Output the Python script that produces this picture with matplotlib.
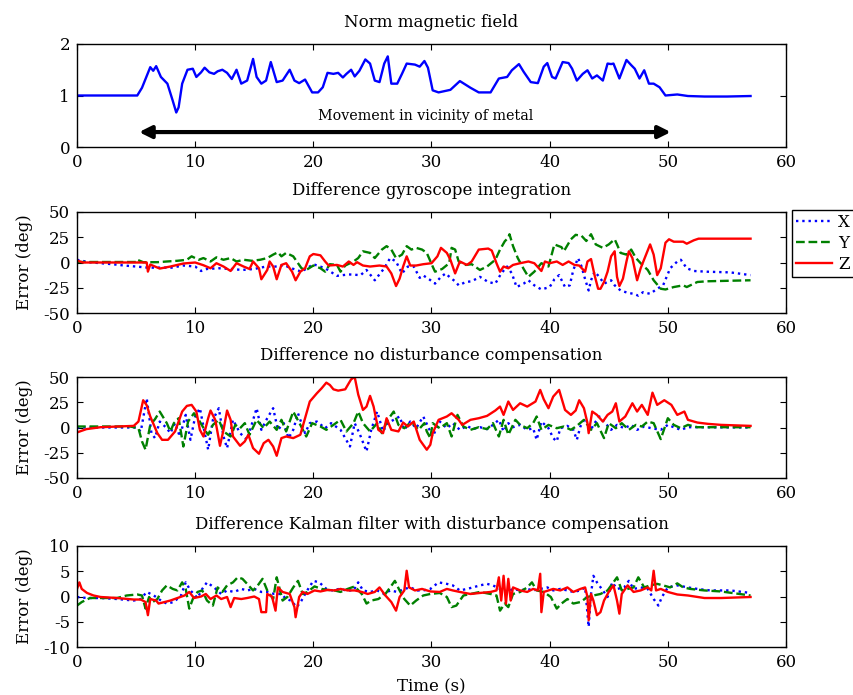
import matplotlib
matplotlib.use('Agg')
import matplotlib.pyplot as plt

# values: (time s, value)
norm_field = [(0, 1.0), (1, 1.0), (2, 1.0), (3, 1.0), (4, 1.0), (5.1, 1.0), (5.5, 1.15),
              (6.2, 1.55), (6.45, 1.48), (6.7, 1.57), (7.1, 1.36), (7.65, 1.23), (8.1, 0.9),
              (8.4, 0.67), (8.6, 0.77), (8.9, 1.23), (9.35, 1.5), (9.8, 1.52), (10.1, 1.36),
              (10.5, 1.45), (10.8, 1.54), (11.2, 1.45), (11.6, 1.42), (11.9, 1.47), (12.3, 1.5),
              (12.7, 1.44), (13.1, 1.32), (13.5, 1.5), (13.9, 1.23), (14.4, 1.29), (14.9, 1.71),
              (15.2, 1.36), (15.6, 1.23), (16.0, 1.29), (16.4, 1.65), (16.9, 1.26), (17.4, 1.29),
              (18.0, 1.5), (18.4, 1.29), (18.8, 1.24), (19.3, 1.31), (19.9, 1.06), (20.4, 1.06),
              (20.8, 1.16), (21.2, 1.44), (21.7, 1.42), (22.1, 1.44), (22.5, 1.35), (22.8, 1.42),
              (23.2, 1.5), (23.5, 1.37), (23.9, 1.48), (24.4, 1.7), (24.8, 1.62), (25.2, 1.29),
              (25.6, 1.26), (26.0, 1.62), (26.3, 1.76), (26.6, 1.23), (27.1, 1.23), (27.5, 1.42),
              (27.9, 1.62), (28.6, 1.6), (29.0, 1.56), (29.4, 1.67), (29.7, 1.54), (30.1, 1.1),
              (30.6, 1.06), (31.6, 1.11), (32.4, 1.28), (33.3, 1.15), (34.0, 1.06), (35.0, 1.06),
              (35.7, 1.33), (36.4, 1.36), (36.8, 1.49), (37.4, 1.61), (37.8, 1.46), (38.4, 1.26),
              (39.0, 1.24), (39.5, 1.56), (39.8, 1.63), (40.2, 1.36), (40.5, 1.33), (41.1, 1.65),
              (41.6, 1.63), (41.9, 1.52), (42.3, 1.29), (42.8, 1.42), (43.2, 1.49), (43.6, 1.33),
              (44.0, 1.39), (44.5, 1.29), (44.9, 1.62), (45.2, 1.61), (45.4, 1.62), (45.9, 1.33),
              (46.5, 1.69), (46.9, 1.59), (47.2, 1.52), (47.6, 1.33), (48.0, 1.49), (48.4, 1.23),
              (48.8, 1.23), (49.3, 1.16), (49.8, 1.0), (50.8, 1.02), (51.7, 0.99), (53.1, 0.98),
              (55.0, 0.98), (57.0, 0.99)]

# Difference gyroscope integration
gyro_x = [(0, 2.7), (1, 0.3), (2, -0.7), (3, -1.7), (4, -3), (5, -4), (6, -5.1), (7, -5.1),
          (8, -5.1), (9, -3), (10, -4), (10.5, -8.4), (11, -6.4), (12, -5.7), (13, -6.4),
          (14, -7.4), (15, -6.4), (16, -4), (17, -4), (17.5, -2.4), (18, -5.1), (19, -9.1),
          (20, -1.7), (21, -5.7), (22, -13.2), (23, -11.8), (24, -12.5), (24.5, -7.4),
          (25.2, -17.6), (26, -5.7), (26.5, 4.4), (27, 1), (27.5, -10.8), (28, -4), (28.5, -4),
          (29.0, -15.2), (29.3, -12.8), (29.8, -16.6), (30.3, -20.9), (30.8, -14.2),
          (31.2, -10.8), (31.6, -15.2), (32.0, -18.6), (32.3, -22.6), (32.9, -19.3),
          (33.4, -18.6), (34.1, -14.2), (34.8, -19.3), (35.4, -20.9), (35.9, -10.8), (36.4, -4),
          (36.8, -10.8), (37.2, -24.3), (37.8, -20.9), (38.2, -17.6), (38.7, -22.6),
          (39.3, -26.7), (40.0, -24.3), (40.4, -16.6), (40.8, -12.5), (41.3, -24.3),
          (41.7, -22.6), (42.0, -7.4), (42.4, 4.4), (42.7, -4), (43.0, -16.6), (43.3, -27.7),
          (43.5, -17.6), (43.8, -9.1), (44.2, -14.2), (44.6, -20.9), (45.2, -17.6),
          (45.5, -22.6), (46.0, -27.7), (46.6, -30), (47.1, -31), (47.5, -32.8), (47.9, -29.4),
          (48.5, -31), (49.1, -26), (49.6, -22.6), (50.2, -5.7), (50.8, 1), (51.1, 2.7),
          (51.6, -5.7), (52.2, -8.4), (53.3, -9.1), (55.3, -9.8), (57.0, -12.5)]
gyro_y = [(0, 0.5), (5.0, 0.5), (5.1, 2.7), (5.6, 0.3), (6.8, 0.3), (7.6, 1), (8.5, 1.7),
          (9.3, 2.7), (9.7, 6.1), (10.3, 2.7), (10.7, 4.4), (11.3, 1), (11.8, 5.1), (12.4, 2.7),
          (13.0, 4.4), (13.5, 1), (14.1, 2.7), (14.8, 1.7), (15.5, 2.7), (16.1, 4.4), (16.6, 7.8),
          (17.0, 10.1), (17.3, 6.1), (17.7, 9.5), (18.3, 6.1), (19.0, -5.7), (19.4, -7.4),
          (20.0, -3), (20.6, -5.7), (21.0, -9.1), (21.4, -1.7), (22.0, -2.4), (22.3, -9.1),
          (22.7, -3), (23.4, 1), (23.8, 4.4), (24.2, 11.1), (24.8, 9.5), (25.2, 4.4),
          (25.8, 12.8), (26.2, 16.2), (26.6, 12.8), (27.0, 4.4), (27.5, 7.8), (27.9, 16.2),
          (28.3, 12.8), (28.7, 14.5), (29.2, 12.8), (29.6, 9.5), (30.1, -4), (30.3, -9.1),
          (30.9, -6.4), (31.5, -0.7), (31.7, 14.5), (32.0, 12.8), (32.3, 1), (32.9, -2.4),
          (33.4, -1.7), (34.1, -7.4), (34.7, -4), (35.4, 2.7), (35.8, 12.8), (36.2, 21),
          (36.5, 24.6), (36.6, 28), (36.9, 16.2), (37.3, 4.4), (37.8, -6.4), (38.2, -14.2),
          (38.7, -9.1), (39.3, -0.7), (39.9, -4), (40.4, 17.9), (41.0, 15.2), (41.2, 11.1),
          (41.8, 23), (42.2, 27.4), (42.7, 26.4), (43.1, 21.3), (43.5, 28), (43.9, 17.9),
          (44.5, 14.5), (45.0, 17.9), (45.5, 23), (45.7, 17.9), (46.0, 9.5), (46.5, 7.8),
          (46.9, 12.8), (47.3, 4.4), (47.7, -0.7), (48.3, -7.4), (48.8, -17.6), (49.4, -26),
          (49.8, -26.7), (50.5, -24.3), (51.3, -22.6), (51.6, -24.3), (52.5, -19.3),
          (53.3, -18.6), (57.0, -17.6)]
gyro_z = [(0, 2), (0.5, 0), (5.9, 0), (6.0, -9), (6.2, -2), (7.0, -6), (7.9, -4), (9.0, -1),
          (10.0, 0), (10.7, -2.7), (11.3, -5.7), (11.8, -0.7), (12.4, -4), (13.0, -8.4),
          (13.5, -0.7), (14.1, -4), (14.6, -6.4), (14.9, 1), (15.4, -5.7), (15.6, -16.6),
          (16.1, -7.4), (16.3, 1), (16.6, -4), (16.9, -16.6), (17.3, -2.4), (17.7, -0.7),
          (18.2, -9.1), (18.5, -17.6), (18.9, -9.1), (19.3, -5.7), (19.7, 6.1), (20.0, 8.4),
          (20.6, 7.1), (21.0, 1), (21.3, -3), (22.0, -2.4), (22.5, -4), (23.0, 1), (23.4, -2.4),
          (23.7, 0.3), (24.2, -3), (24.8, -4), (25.6, -3), (26.2, -4), (26.6, -10.8),
          (27.0, -23.3), (27.3, -16), (27.6, -4), (27.9, 6.1), (28.2, -3), (28.7, -3),
          (29.3, -1.7), (30.0, -0.7), (30.5, 6.1), (30.8, 14.5), (31.3, 9.5), (31.6, 2.7),
          (32.0, -10.8), (32.4, 1), (33.0, -2.4), (33.4, 1), (34.0, 12.8), (34.8, 13.8),
          (35.1, 11.8), (35.5, -0.7), (35.8, -9.1), (36.1, -4), (36.5, -5.7), (36.9, -2.4),
          (37.5, -0.7), (38.2, 1), (38.7, -0.7), (39.3, -8.4), (39.6, 1), (40.0, -0.7),
          (40.6, 1), (41.1, -2.4), (41.6, 1), (42.1, -2.4), (42.5, -3), (43.0, -9.1), (43.2, 1),
          (43.5, 3.4), (43.8, -12.5), (44.1, -26), (44.3, -26), (44.6, -19.3), (44.9, -9.1),
          (45.2, 6.1), (45.5, 11.1), (45.7, -14.2), (45.9, -23.3), (46.2, -16), (46.5, 1),
          (46.7, 11.1), (47.0, 4.4), (47.4, -17.6), (47.7, -5.7), (48.1, 6.1), (48.5, 17.9),
          (48.8, 7.8), (49.1, -12.5), (49.4, -5.7), (49.8, 19.6), (50.1, 23), (50.5, 20.6),
          (51.3, 20.6), (51.6, 18.6), (52.2, 22), (52.6, 23.6), (57.0, 23.6)]

# Difference no disturbance compensation
nocomp_x = [(0, 0), (5.0, 0), (5.4, -3.9), (5.9, 28.9), (6.3, -5.6), (6.6, -10.5), (7.0, 5.9),
            (7.6, -0.7), (7.9, -5.6), (8.3, 4.3), (8.7, -8.9), (9.2, 12.5), (9.6, -12.2),
            (10.0, 10.9), (10.4, 19.1), (10.7, 1), (11.1, -22), (11.5, 7.6), (12.0, 19.1),
            (12.4, -8.9), (12.7, -20.4), (13.2, 7.6), (13.8, -5.6), (14.4, -12.2), (15.2, 19.1),
            (15.6, -2.3), (16.1, 9.2), (16.6, 19.1), (17.0, -2.3), (17.5, 4.3), (17.9, -10.5),
            (18.3, -2.3), (18.7, 14.1), (19.3, -5.6), (19.7, 4.3), (20.3, 5.9), (21.0, -0.7),
            (21.5, 4.3), (22.3, -2.3), (23.1, -18.8), (23.5, 4.3), (23.9, -5.6), (24.5, -23.7),
            (24.9, -2.3), (25.4, 15.8), (25.9, -3.9), (26.3, 4.3), (26.8, 7.6), (27.3, 10.9),
            (27.7, -2.3), (28.2, 5.9), (28.7, -0.7), (29.3, 10.9), (29.9, -3.9), (30.1, -8.9),
            (30.7, 5.9), (31.3, -0.7), (31.8, 4.3), (32.4, -2.3), (33.0, 1.6), (33.5, -1.6),
            (34.1, 0.3), (34.7, -1.6), (35.2, 2.6), (35.7, 7.6), (36.1, -3.9), (36.5, 4.3),
            (36.9, 0.3), (37.5, 2.6), (38.1, -2.3), (38.6, -0.7), (38.9, -12.2), (39.3, 5.9),
            (39.9, -0.7), (40.3, -10.5), (40.6, -13.8), (40.9, -0.7), (41.5, 1.6), (42.0, -2.3),
            (42.3, -12.2), (42.6, 1), (43.0, 9.2), (43.5, -2.3), (43.7, 2.6), (44.2, 10.9),
            (44.6, 5.9), (45.2, -2.3), (45.7, 2.6), (46.3, -0.7), (46.9, 2.6), (47.4, -2.3),
            (48.0, 1), (48.6, -0.7), (49.4, -2.3), (50.0, 2.6), (50.5, 0.3), (51.1, -2.3),
            (51.7, 0.3), (57.0, 0)]
nocomp_y = [(0, 1), (4.5, 1), (5.2, -0.7), (5.5, -13.8), (5.8, -22), (6.2, 2.6), (6.6, 8.2),
            (7.0, 15.8), (7.6, 4.3), (7.9, -3.9), (8.2, 4.3), (8.6, 9.2), (9.0, -18.8),
            (9.4, 5.9), (9.9, 14.1), (10.3, 7.6), (10.8, -2.3), (11.1, -7.2), (11.5, 2.6),
            (12.0, 7.6), (12.4, -3.9), (13.0, -8.9), (13.4, 2.6), (13.8, -0.7), (14.2, 4.3),
            (14.6, -7.2), (15.2, 7.6), (15.8, -0.7), (16.3, 5.9), (16.9, -2.3), (17.3, 7.6),
            (17.7, -3.9), (18.3, 15.8), (18.9, 2.6), (19.4, -8.9), (19.9, 4.3), (20.6, 1),
            (21.1, -2.3), (21.7, 2.6), (22.3, 7.6), (22.8, -3.9), (23.4, 4.3), (23.8, 15.8),
            (24.2, 4.3), (24.8, -3.9), (25.4, 4.3), (25.8, -5.6), (26.3, 7.6), (26.8, 15.8),
            (27.2, 2.6), (27.7, -0.7), (28.3, 5.9), (28.9, -2.3), (29.4, 4.3), (29.6, -3.9),
            (29.9, -10.5), (30.1, 4.3), (30.7, -0.7), (31.3, 4.3), (31.7, -8.9), (32.2, 12.5),
            (32.7, 1), (33.3, -2.3), (34.0, 0.3), (34.7, -1.6), (35.2, 4.3), (35.7, -8.9),
            (36.1, 7.6), (36.5, -7.2), (37.1, 7.6), (37.5, 2.6), (38.1, -0.7), (38.6, 4.3),
            (38.9, 10.9), (39.3, -2.3), (39.9, 2.6), (40.6, -0.7), (41.2, 1), (41.8, -2.3),
            (42.3, 1.6), (42.9, 7.6), (43.5, -2.3), (44.0, 4.3), (44.6, -10.5), (45.0, 4.3),
            (45.6, -0.7), (46.1, 4.3), (46.7, -2.3), (47.3, 2.6), (47.8, 1), (48.3, 5.9),
            (48.8, 4.3), (49.4, -11.5), (50.0, 9.2), (50.5, 2.6), (51.1, -0.7), (51.7, 2.6),
            (52.5, 0.3), (57.0, 0.3)]
nocomp_z = [(0, -4.9), (0.8, -1.6), (2.0, 0.3), (4.8, 1.6), (5.2, 5.9), (5.6, 27), (5.9, 22),
            (6.2, 10.9), (6.8, -5.6), (7.2, -12.2), (7.7, -12.2), (8.3, -3.9), (8.9, 15.8),
            (9.3, 21.4), (9.7, 22.4), (10.1, 15.8), (10.4, -2.3), (10.7, -8.9), (11.1, 9.2),
            (11.3, 16.8), (11.7, 7.6), (12.1, -18.1), (12.4, -2.3), (12.7, 16.8), (13.0, 7.6),
            (13.2, -8.9), (13.8, -18.1), (14.2, -13.8), (14.5, -7.2), (14.9, -20.4), (15.4, -26),
            (15.8, -15.5), (16.2, -12.2), (16.6, -18.8), (16.9, -28), (17.3, -10.5),
            (17.7, -8.9), (18.3, -10.5), (18.9, -7.2), (19.3, 9.2), (19.7, 25.7), (20.3, 33.9),
            (20.7, 38.8), (21.1, 44.4), (21.4, 42.1), (21.7, 37.8), (22.1, 36.5), (22.7, 37.8),
            (23.0, 43.8), (23.2, 47.7), (23.5, 50), (23.8, 32.6), (24.2, 17.4), (24.5, 20.7),
            (24.8, 31.3), (25.1, 20.7), (25.5, -2.3), (25.9, -5.6), (26.2, 9.2), (26.6, -2.3),
            (27.2, -3.9), (27.6, 4.9), (28.0, 1), (28.5, 5.9), (29.0, -12.2), (29.6, -22),
            (29.9, -17.1), (30.1, -5.6), (30.6, 7.6), (31.3, 10.9), (31.7, 14.1), (32.3, 7.6),
            (32.6, 2.6), (33.3, 7.6), (34.0, 9.2), (34.7, 11.5), (35.4, 16.8), (35.8, 20.7),
            (36.1, 12.5), (36.5, 25.7), (36.9, 17.4), (37.5, 24), (38.1, 20.7), (38.8, 25.7),
            (39.2, 37.2), (39.5, 27.9), (39.9, 19.1), (40.3, 30.6), (40.8, 37.2), (41.3, 17.4),
            (41.8, 12.5), (42.2, 16.8), (42.5, 27), (42.9, 19.1), (43.2, 4.3), (43.3, -5.6),
            (43.6, 15.8), (44.0, 12.5), (44.5, 5.9), (44.9, 12.5), (45.3, 15.8), (45.6, 24),
            (45.9, 5.9), (46.4, 10.9), (47.0, 24), (47.4, 15.8), (47.8, 22.4), (48.3, 12.5),
            (48.7, 34.5), (49.1, 22.4), (49.7, 27), (50.3, 22.4), (50.8, 12.5), (51.4, 15.8),
            (51.7, 7.6), (52.5, 4.9), (53.4, 3.6), (54.5, 2.6), (57.0, 1.6)]

# Difference Kalman filter with disturbance compensation
kalman_x = [(0, -0.1), (0.85, -0.3), (2.0, -0.3), (3.4, -0.5), (4.8, -0.8), (5.4, -0.5),
            (5.9, 0.9), (6.5, 0.2), (7.1, -0.8), (7.6, -1.4), (8.2, -1.1), (8.8, 0.2), (9.2, 2.8),
            (9.6, 1.2), (10.2, -0.3), (10.6, 1.5), (11.0, 2.8), (11.6, 1.8), (12.2, 0.5),
            (12.7, 1.2), (13.3, 0.9), (13.9, 1.5), (14.4, 1.2), (15.0, 1.5), (15.6, 0.9),
            (16.1, 0.9), (16.7, 0.5), (17.3, 0.5), (17.7, -0.5), (18.1, -0.8), (18.6, -2.1),
            (19.0, -0.8), (19.4, 0.9), (20.0, 3.1), (20.5, 2.8), (21.1, 1.5), (21.6, 1.2),
            (22.2, 1.5), (22.8, 1.2), (23.4, 1.2), (23.8, 2.8), (24.2, 1.2), (24.8, 0.9),
            (25.4, 1.2), (26.0, 0.5), (26.5, 1.2), (27.1, 0.9), (27.7, 1.5), (28.2, 1.8),
            (28.8, 1.2), (29.3, 1.2), (29.9, 1.5), (30.6, 2.8), (31.3, 2.5), (31.8, 2.2),
            (32.4, 1.2), (33.0, 1.5), (33.5, 1.8), (34.1, 2.2), (34.7, 2.5), (35.2, 2.2),
            (35.8, 1.5), (36.4, 0.9), (36.9, 1.5), (37.5, 1.2), (38.1, 1.5), (38.6, 1.2),
            (39.2, 1.5), (39.8, 1.8), (40.3, 1.2), (40.9, 1.5), (41.5, 1.2), (42.0, 0.9),
            (42.6, 1.2), (43.0, 1.8), (43.3, -6), (43.5, 0.5), (43.7, 4.1), (44.0, 2.8),
            (44.5, 1.2), (44.9, -0.1), (45.3, 2.8), (45.7, 1.5), (46.3, 1.8), (46.7, 3.1),
            (47.1, 1.5), (47.7, 1.8), (48.3, 1.5), (48.8, -0.5), (49.2, -1.8), (49.5, -0.1),
            (50.0, 1.8), (50.8, 2.2), (51.7, 1.8), (52.5, 1.5), (53.6, 1.2), (55.3, 1.2),
            (57.0, 0.7)]
kalman_y = [(0, -1.8), (0.4, -1.1), (1.1, -0.3), (2.0, -0.3), (3.4, -0.3), (4.2, 0.2),
            (5.1, 0.4), (5.5, 0.2), (5.8, -2.4), (6.1, -0.1), (6.4, -1.1), (6.8, -0.5),
            (7.2, 1.2), (7.6, 2.2), (8.1, 1.5), (8.5, 1.2), (8.9, 2.8), (9.2, 1.5), (9.5, -2.4),
            (9.8, -0.5), (10.2, 0.9), (10.6, 1.2), (11.0, -0.8), (11.5, -1.8), (11.9, 1.8),
            (12.3, 0.9), (12.7, 2.2), (13.2, 2.8), (13.6, 3.8), (14.0, 3.5), (14.4, 2.5),
            (14.9, 1.2), (15.3, 2.2), (15.7, 3.5), (16.1, 1.2), (16.6, -0.5), (16.9, 3.8),
            (17.4, -0.8), (17.8, -0.1), (18.3, 1.8), (18.7, 3.1), (19.1, 0.5), (19.5, 0.9),
            (20.1, 2.0), (20.7, 1.5), (21.2, 1.3), (21.8, 1.2), (22.3, 0.9), (22.9, 1.5),
            (23.5, 2.0), (24.1, 0.5), (24.5, -1.4), (24.9, -0.8), (25.5, -0.5), (26.1, 0.5),
            (26.5, 1.8), (26.9, 3.1), (27.3, 1.2), (27.7, -0.5), (28.2, -1.8), (28.7, -0.8),
            (29.3, 0.2), (29.9, 0.5), (30.7, 0.7), (31.3, -0.1), (31.7, -2.1), (32.1, -1.8),
            (32.7, 0.2), (33.3, 0.5), (34.1, 0.9), (35.0, 0.5), (35.5, 0.2), (35.8, -2.8),
            (36.2, -1.4), (36.5, -2.1), (36.9, 0.5), (37.5, 0.9), (38.1, 1.8), (38.5, 2.8),
            (38.9, 1.2), (39.5, 0.9), (40.1, -0.1), (40.6, -2.4), (41.0, -1.4), (41.5, -0.5),
            (42.0, -1.4), (42.6, -1.1), (43.2, -0.1), (43.7, 0.2), (44.3, 0.5), (44.9, 1.2),
            (45.3, 2.5), (45.7, 3.8), (46.1, 1.2), (46.6, 1.5), (47.1, 1.8), (47.5, 3.8),
            (48.0, 1.8), (48.5, 2.2), (49.1, 2.5), (49.6, 2.2), (50.2, 1.8), (50.8, 2.6),
            (51.3, 1.8), (51.9, 1.5), (53.1, 1.2), (54.5, 1.0), (57.0, 0.2)]
kalman_z = [(0, 1.5), (0.2, 2.8), (0.4, 1.5), (0.85, 0.7), (1.4, 0.2), (2.0, -0.1), (3.4, -0.3),
            (4.8, -0.6), (5.4, -0.6), (5.8, -1.1), (6.0, -3.7), (6.2, -0.5), (6.7, -0.8),
            (6.9, -1.4), (7.4, -1.1), (7.9, -0.8), (8.5, -0.3), (9.1, 0.2), (9.5, 0.9),
            (9.9, -0.3), (10.5, 0), (10.9, 0.5), (11.3, -0.5), (11.8, 0.2), (12.2, -0.5),
            (12.7, -0.1), (13.0, -2.1), (13.3, -0.3), (13.9, -0.5), (14.4, -0.3), (15.0, 0),
            (15.4, -0.5), (15.6, -3.1), (16.0, -3.1), (16.1, 0.5), (16.5, 0), (16.8, -2.8),
            (17.0, 1.8), (17.4, 0.9), (18.0, 0.5), (18.4, -2.1), (18.5, -4.1), (18.8, -0.1),
            (19.1, 0.9), (19.5, 0.5), (20.1, 1.2), (20.6, 1.0), (21.2, 1.3), (21.8, 1.2),
            (22.3, 1.5), (22.9, 1.2), (23.5, 1.2), (24.1, 0.9), (24.6, 0.5), (25.2, 0.9),
            (25.6, 1.8), (26.1, 0.2), (26.6, -1.1), (27.0, -2.8), (27.3, -0.1), (27.7, 1.2),
            (27.9, 5.1), (28.1, 1.8), (28.6, 1.2), (29.2, 1.5), (29.9, 1.0), (30.7, 0.9),
            (31.3, 1.5), (31.8, 1.2), (32.4, 0.9), (33.3, 0.5), (34.1, 0.7), (35.0, 0.9),
            (35.5, 1.2), (35.7, 3.8), (35.9, -0.8), (36.1, 4.1), (36.3, -1.4), (36.5, 3.5),
            (36.7, -0.8), (36.9, 1.8), (37.5, 1.2), (38.1, 0.9), (38.6, 1.5), (39.0, 1.2),
            (39.2, 4.5), (39.3, -3.1), (39.5, 0.9), (40.3, 1.5), (40.9, 1.2), (41.5, 1.8),
            (42.0, 0.9), (42.6, 1.5), (43.0, 1.8), (43.2, -0.1), (43.3, -4.7), (43.5, 0.5),
            (43.7, -0.8), (44.0, -3.7), (44.3, -3.1), (44.6, -0.8), (45.0, 0.9), (45.4, 2.2),
            (45.7, -0.8), (45.9, -3.4), (46.1, 0.5), (46.6, 2.2), (47.1, 0.9), (47.7, 1.2),
            (48.3, 1.8), (48.6, 1.2), (48.8, 5.1), (49.0, 1.2), (49.4, 1.5), (50.0, 0.9),
            (50.8, 0.4), (51.7, 0.2), (53.1, -0.3), (54.5, -0.3), (57.0, -0.1)]

titles = ['Norm magnetic field', 'Difference gyroscope integration',
          'Difference no disturbance compensation',
          'Difference Kalman filter with disturbance compensation']
axis_labels = ['X', 'Y', 'Z']
ylims = [(0, 2), (-50, 50), (-50, 50), (-10, 10)]
yticks = [[0, 1, 2], [-50, -25, 0, 25, 50], [-50, -25, 0, 25, 50], [-10, -5, 0, 5, 10]]

plt.rcParams['font.family'] = ['DejaVu Serif']
plt.rcParams['font.size'] = 12
plt.rcParams['axes.unicode_minus'] = False

fig = plt.figure(figsize=(8.54, 6.95), dpi=100)
tops = [44, 212, 377, 546]
bots = [147, 313, 478, 647]
axes = []
for top, bot in zip(tops, bots):
    axes.append(fig.add_axes([77 / 854, 1 - bot / 695, 709 / 854, (bot - top) / 695]))


def unzip(pairs):
    return [p[0] for p in pairs], [p[1] for p in pairs]


# panel 1
t, v = unzip(norm_field)
axes[0].plot(t, v, color='b', lw=1.7)
axes[0].annotate('', xy=(5.25, 0.29), xytext=(50.25, 0.29),
                 arrowprops=dict(arrowstyle='<|-|>', color='k', lw=3, mutation_scale=18,
                                 shrinkA=0, shrinkB=0))
axes[0].text(29.5, 0.6, 'Movement in vicinity of metal', ha='center', va='center', fontsize=10.3)

# error panels
sets = [(gyro_x, gyro_y, gyro_z), (nocomp_x, nocomp_y, nocomp_z),
        (kalman_x, kalman_y, kalman_z)]
for ax, (sx, sy, sz) in zip(axes[1:], sets):
    t, v = unzip(sx)
    ax.plot(t, v, color='b', ls=':', lw=1.7, label=axis_labels[0])
    t, v = unzip(sy)
    ax.plot(t, v, color=(0, 0.5, 0), ls='--', lw=1.7, label=axis_labels[1])
    t, v = unzip(sz)
    ax.plot(t, v, color='r', ls='-', lw=1.7, label=axis_labels[2])
    ax.set_ylabel('Error (deg)')
    ax.yaxis.set_label_coords(-0.062, 0.5)

for i, ax in enumerate(axes):
    ax.set_xlim(0, 60)
    ax.set_ylim(*ylims[i])
    ax.set_xticks([0, 10, 20, 30, 40, 50, 60])
    ax.set_yticks(yticks[i])
    ax.set_title(titles[i], fontsize=12, pad=12)
    ax.tick_params(direction='in', top=True, right=True, length=4, width=0.8, pad=5)
    for s in ax.spines.values():
        s.set_linewidth(1.0)

axes[1].legend(loc='upper left', bbox_to_anchor=(1.0085, 1.02), frameon=True, fancybox=False,
               edgecolor='k', framealpha=1, borderaxespad=0, handlelength=2.15,
               handletextpad=0.35, fontsize=12, labelspacing=0.23, borderpad=0.25)
axes[3].set_xlabel('Time (s)', labelpad=5)

fig.savefig('out.png', dpi=100)
